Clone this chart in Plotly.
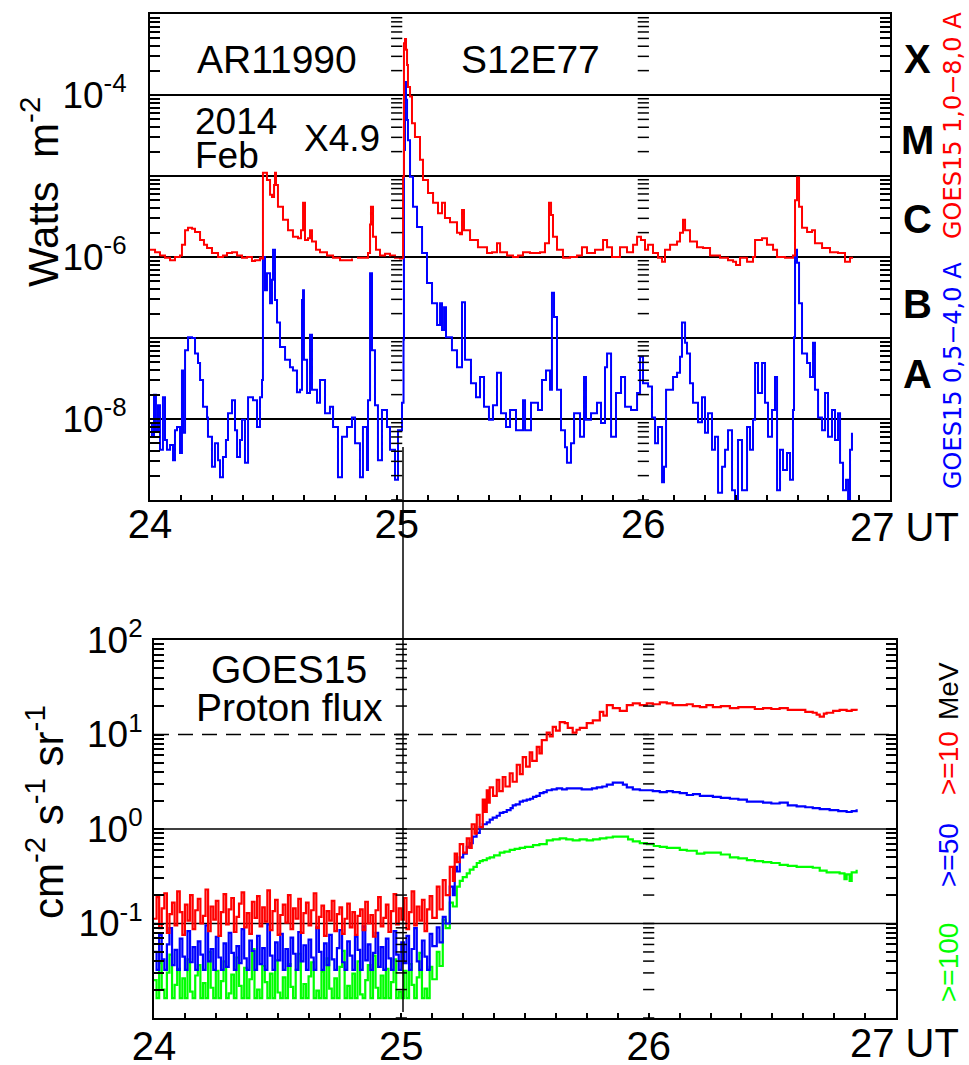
import plotly.graph_objects as go

W, H = 969, 1065
FONT = "Liberation Sans, Arial, sans-serif"

# ---------------- GOES-15 X-ray flux (hours after 2014-02-24 00:00 UT, log10 W m^-2) ----------------
xl_hours = [0.00, 0.49, 0.97, 1.46, 1.95, 2.43, 2.92, 3.11, 3.41, 3.70, 4.09, 4.38, 4.87, 5.25, 5.55,
            6.03, 6.62, 7.10, 7.49, 7.98, 8.47, 8.95, 9.44, 9.92, 10.22, 10.70, 10.90, 10.99, 11.38,
            11.68, 11.87, 12.07, 12.16, 12.26, 12.45, 12.94, 13.43, 13.91, 14.40, 14.69, 14.89, 15.08,
            15.37, 15.57, 15.76, 16.15, 16.54, 17.22, 17.81, 18.49, 19.27, 19.65, None, 20.14, 20.63,
            21.21, 21.41, 21.50, 21.70, 21.99, 22.38, 22.87, 23.35, 23.84, 24.33, 24.52, 24.62, 24.71,
            24.81, 24.91, 25.01, 25.10, 25.30, 25.49, 25.78, 26.27, 26.56, 27.05, 27.54, 28.02, 28.41,
            28.70, 29.19, 29.87, 30.16, 30.36, 30.55, 31.14, 31.91, 32.79, 33.28, 33.76, 34.06, 34.74,
            35.32, 35.81, 36.29, 36.97, 37.95, 38.43, 38.82, 39.02, 39.21, 39.60, 40.18, 40.87, 41.55,
            42.03, 42.52, 43.30, 44.08, 44.47, 44.95, 45.73, 46.41, 47.00, 47.39, 47.77, 48.16, 48.46,
            48.94, 49.43, 49.82, 50.11, 50.60, 51.28, 51.57, 51.86, 52.06, 52.54, 53.22, 53.81, 54.49,
            55.46, 56.24, 56.73, 57.02, 57.41, 58.09, 58.67, 58.87, 59.55, 60.03, 60.62, 61.01, 61.79,
            62.27, 62.56, 62.76, 62.95, 63.15, 63.44, 63.93, 64.41, 64.70, 65.39, 66.16, 66.94, 67.62,
            68.11, 68.40]
xl_log10 = [-5.91, -5.94, -5.98, -6.01, -6.04, -6.00, -5.98, -5.85, -5.67, -5.64, -5.65, -5.69, -5.79,
            -5.85, -5.89, -5.95, -6.00, -5.98, -5.95, -5.94, -5.98, -6.01, -6.00, -6.05, -6.04, -6.01,
            -6.02, -4.96, -5.05, -5.23, -5.26, -5.11, -4.96, -5.11, -5.38, -5.54, -5.67, -5.75, -5.77,
            -5.67, -5.33, -5.79, -5.77, -5.67, -5.81, -5.91, -5.94, -5.98, -6.01, -6.04, -6.04, -6.02,
            None, -6.01, -6.01, -5.95, -5.60, -5.38, -5.75, -5.91, -5.98, -5.96, -5.98, -6.01, -6.02,
            -6.01, -5.01, -3.36, -3.31, -3.44, -3.63, -3.90, -4.02, -4.35, -4.52, -4.80, -5.05, -5.21,
            -5.33, -5.46, -5.33, -5.52, -5.57, -5.70, -5.72, -5.42, -5.67, -5.79, -5.88, -5.95, -5.94,
            -5.83, -5.94, -5.98, -6.00, -5.98, -5.94, -5.95, -5.94, -5.83, -5.33, -5.48, -5.75, -5.91,
            -6.01, -6.00, -5.98, -5.88, -5.95, -5.91, -5.79, -5.88, -6.00, -5.88, -5.94, -5.85, -5.75,
            -5.79, -5.91, -5.85, -5.95, -6.01, -6.06, -5.91, -5.85, -5.81, -5.70, -5.54, -5.67, -5.81,
            -5.88, -5.89, -5.98, -6.01, -6.04, -6.06, -6.10, -6.01, -6.06, -6.00, -5.79, -5.77, -5.85,
            -5.91, -6.00, -6.01, -6.01, -5.98, -5.30, -5.02, -5.38, -5.64, -5.69, -5.67, -5.83, -5.89,
            -5.94, -5.95, -6.06, -6.01, -6.01]

xs_hours = [0.00, 0.19, 0.39, 0.58, 0.78, 0.97, 1.26, 1.46, 1.65, 1.95, 2.24, 2.43, 2.63, 2.92, 3.11,
            3.21, 3.41, 3.70, 4.09, 4.38, 4.67, 4.87, 5.16, 5.55, 5.64, 6.03, 6.32, 6.62, 6.81, 7.10,
            7.39, 7.59, 7.98, 8.27, 8.47, 8.76, 8.95, 9.24, 9.54, 10.02, 10.41, 10.70, 10.90, 10.99,
            11.19, 11.38, 11.68, 11.87, 11.97, 12.16, 12.36, 12.65, 13.14, 13.62, 13.91, 14.30, 14.60,
            14.79, 14.89, 14.98, 15.28, 15.57, 15.76, 16.25, 16.54, 17.03, 17.51, 17.81, 18.29, 18.68,
            19.17, 19.65, 19.95, 20.43, 20.72, 21.11, 21.21, 21.41, 21.60, 21.89, 22.18, 22.57, 23.06,
            23.35, 23.84, 24.13, 24.52, 24.67, 24.71, 24.81, 24.91, 25.01, 25.10, 25.30, 25.59, 25.98,
            26.47, 26.95, 27.44, 27.93, 28.22, 28.41, 28.61, 28.80, 29.38, 29.87, 30.16, 30.36, 30.65,
            31.23, 31.72, 32.11, 32.50, 32.98, 33.37, 33.76, 34.15, 34.64, 35.03, 35.61, 36.29, 36.49,
            37.07, 37.75, 38.14, 38.53, 38.92, 39.11, 39.31, 39.60, 39.99, 40.38, 40.57, 40.96, 41.26,
            41.84, 42.23, 42.42, 42.91, 43.49, 43.88, 44.27, 44.47, 44.86, 45.34, 45.83, 46.22, 46.80,
            47.39, 47.68, 47.97, 48.46, 48.84, 49.14, 49.43, 49.82, 50.01, 50.21, 50.60, 50.89, 51.28,
            51.57, 51.76, 52.06, 52.25, 52.54, 52.83, 53.32, 53.71, 54.00, 54.29, 54.68, 54.97, 55.27,
            55.66, 55.95, 56.24, 56.63, 56.92, 57.21, 57.60, 57.89, 58.09, 58.38, 58.67, 58.87, 59.16,
            59.55, 59.84, 60.13, 60.52, 60.81, 61.01, 61.30, 61.59, 61.98, 62.27, 62.56, 62.66, 62.76,
            62.95, 63.15, 63.44, 63.93, 64.22, 64.51, 64.70, 65.00, 65.39, 65.68, 65.97, 66.36, 66.65,
            66.94, 67.14, 67.43, 67.72, 67.92, 68.11, 68.30]
xs_log10 = [-8.05, -8.22, -7.70, -8.14, -7.83, -8.38, -7.73, -8.26, -8.38, -8.32, -8.51, -8.14, -8.10,
            -8.42, -7.40, -8.17, -7.15, -6.99, -7.00, -7.19, -7.31, -7.52, -7.85, -7.98, -8.22, -8.59,
            -8.30, -8.51, -8.72, -8.47, -8.26, -7.93, -7.77, -8.14, -8.47, -8.26, -8.01, -8.54, -7.73,
            -7.77, -8.10, -7.73, -7.52, -6.00, -6.41, -6.20, -6.57, -6.28, -5.91, -6.53, -6.81, -7.11,
            -7.27, -7.36, -7.40, -7.67, -7.64, -6.53, -6.41, -7.27, -7.68, -6.96, -7.64, -7.80, -7.52,
            -7.93, -7.85, -8.10, -8.72, -8.22, -8.10, -7.98, -8.30, -8.72, -8.10, -8.63, -7.77, -6.20,
            -7.15, -7.83, -8.51, -7.89, -8.10, -8.38, -8.75, -8.14, -7.80, -7.02, -4.68, -3.84, -4.06,
            -4.31, -4.56, -5.01, -5.38, -5.63, -5.95, -6.32, -6.57, -6.84, -6.57, -6.90, -6.62, -6.99,
            -7.15, -7.36, -7.36, -6.56, -7.27, -7.56, -7.73, -7.48, -7.85, -8.01, -7.83, -7.43, -7.93,
            -8.10, -7.89, -8.14, -7.77, -8.14, -7.80, -7.89, -7.52, -7.40, -7.64, -6.44, -6.74, -7.64,
            -8.14, -8.35, -8.54, -8.30, -7.93, -8.22, -7.48, -8.01, -7.93, -7.80, -8.05, -7.36, -7.19,
            -8.22, -7.68, -7.48, -7.85, -7.89, -7.68, -7.23, -7.56, -7.60, -7.98, -8.30, -8.10, -8.78,
            -8.59, -7.64, -7.64, -7.48, -7.43, -7.23, -6.81, -7.06, -7.19, -7.56, -7.80, -8.04, -7.73,
            -8.17, -7.93, -8.38, -8.22, -8.91, -8.59, -8.38, -8.14, -8.88, -9.02, -8.26, -8.88, -8.88,
            -8.10, -8.38, -8.01, -7.31, -7.68, -7.31, -7.80, -8.22, -7.89, -7.48, -8.88, -8.38, -8.63,
            -8.42, -8.75, -7.89, -6.99, -5.91, -6.07, -6.57, -7.19, -7.31, -7.48, -7.06, -7.64, -7.98,
            -8.14, -7.68, -8.22, -7.89, -8.26, -7.93, -8.54, -8.88, -8.75, -9.00, -8.38, -8.17]

# ---------------- GOES-15 integral proton flux (log10 cm^-2 s^-1 sr^-1) ----------------
p_base_hours = [0.0, 0.25, 0.5, 0.75, 1.0, 1.25, 1.5, 1.75, 2.0, 2.25, 2.5, 2.75, 3.0, 3.25, 3.5, 3.75,
                4.0, 4.25, 4.5, 4.75, 5.0, 5.25, 5.5, 5.75, 6.0, 6.25, 6.5, 6.75, 7.0, 7.25, 7.5, 7.75,
                8.0, 8.25, 8.5, 8.75, 9.0, 9.25, 9.5, 9.75, 10.0, 10.25, 10.5, 10.75, 11.0, 11.25, 11.5,
                11.75, 12.0, 12.25, 12.5, 12.75, 13.0, 13.25, 13.5, 13.75, 14.0, 14.25, 14.5, 14.75, 15.0,
                15.25, 15.5, 15.75, 16.0, 16.25, 16.5, 16.75, 17.0, 17.25, 17.5, 17.75, 18.0, 18.25, 18.5,
                18.75, 19.0, 19.25, 19.5, 19.75, 20.0, 20.25, 20.5, 20.75, 21.0, 21.25, 21.5, 21.75, 22.0,
                22.25, 22.5, 22.75, 23.0, 23.25, 23.5, 23.75, 24.0, 24.25, 24.5, 24.75, 25.0, 25.25, 25.5,
                25.75, 26.0, 26.25, 26.5, 26.75, 27.0]
p10_base_log10 = [-0.95, -0.72, -1.05, -0.84, -0.68, -1.10, -0.90, -0.78, -1.02, -0.66, -0.88, -1.12,
                  -0.80, -0.97, -0.70, -1.06, -0.86, -0.74, -1.00, -0.92, -0.64, -1.08, -0.82, -0.96,
                  -0.76, -1.13, -0.88, -0.69, -1.01, -0.85, -0.73, -1.09, -0.93, -0.79, -0.67, -1.04,
                  -0.89, -1.11, -0.77, -0.94, -0.71, -1.03, -0.83, -0.98, -0.65, -1.07, -0.87, -0.75,
                  -1.12, -0.91, -0.80, -0.99, -0.70, -1.06, -0.84, -0.95, -0.74, -1.10, -0.89, -0.78,
                  -1.02, -0.86, -0.68, -1.05, -0.93, -0.81, -1.13, -0.87, -0.97, -0.76, -1.08, -0.90,
                  -0.83, -1.11, -0.95, -0.79, -1.04, -0.88, -1.12, -0.92, -0.85, -1.07, -0.77, -1.00,
                  -0.91, -1.14, -0.86, -0.72, -1.03, -0.94, -0.80, -1.09, -0.87, -0.69, -1.01, -0.84,
                  -0.96, -0.73, -1.06, -0.88, -0.66, -1.02, -0.82, -0.97, -0.75, -1.08, -0.85, -0.71, -0.94]
p50_base_log10 = [-1.30, -1.49, -1.12, -1.38, -1.49, -1.22, -1.05, -1.44, -1.28, -1.49, -1.16, -1.35,
                  -1.49, -1.08, -1.41, -1.25, -1.49, -1.19, -1.33, -1.49, -1.02, -1.40, -1.27, -1.49,
                  -1.14, -1.36, -1.49, -1.21, -1.46, -1.10, -1.31, -1.49, -1.24, -1.42, -1.06, -1.37,
                  -1.49, -1.18, -1.29, -1.49, -1.13, -1.43, -1.26, -1.49, -1.01, -1.34, -1.49, -1.20,
                  -1.39, -1.11, -1.49, -1.27, -1.45, -1.15, -1.32, -1.49, -1.09, -1.40, -1.23, -1.49,
                  -1.17, -1.36, -1.49, -1.04, -1.30, -1.49, -1.21, -1.44, -1.12, -1.38, -1.49, -1.26,
                  -1.07, -1.41, -1.49, -1.19, -1.34, -1.49, -1.14, -1.28, -1.49, -1.03, -1.39, -1.22,
                  -1.49, -1.31, -1.10, -1.46, -1.25, -1.49, -1.16, -1.37, -1.49, -1.08, -1.33, -1.49,
                  -1.20, -1.42, -1.13, -1.49, -1.27, -1.05, -1.40, -1.49, -1.18, -1.35, -1.49, -1.11, -1.24]
p100_base_log10 = [-1.60, -1.79, -1.42, -1.70, -1.79, -1.52, -1.33, -1.79, -1.65, -1.48, -1.79, -1.58,
                   -1.79, -1.38, -1.72, -1.79, -1.55, -1.44, -1.79, -1.63, -1.79, -1.30, -1.68, -1.79,
                   -1.50, -1.79, -1.61, -1.40, -1.79, -1.74, -1.54, -1.79, -1.36, -1.66, -1.79, -1.47,
                   -1.79, -1.59, -1.27, -1.79, -1.70, -1.79, -1.45, -1.62, -1.79, -1.53, -1.79, -1.39,
                   -1.73, -1.79, -1.57, -1.79, -1.43, -1.67, -1.79, -1.49, -1.32, -1.79, -1.64, -1.79,
                   -1.56, -1.41, -1.79, -1.71, -1.79, -1.51, -1.79, -1.37, -1.69, -1.79, -1.58, -1.79,
                   -1.46, -1.29, -1.79, -1.66, -1.79, -1.53, -1.79, -1.40, -1.75, -1.79, -1.60, -1.44,
                   -1.79, -1.34, -1.68, -1.79, -1.55, -1.79, -1.48, -1.79, -1.62, -1.38, -1.79, -1.72,
                   -1.79, -1.50, -1.79, -1.43, -1.65, -1.79, -1.57, -1.31, -1.79, -1.69, -1.79, -1.46, -1.59]

p10_hours = [27.44, 27.7, 28.02, 28.3, 28.70, 29.0, 29.18, 29.4, 29.67, 30.0, 30.35, 30.6, 30.83, 31.1,
             31.32, 31.6, 31.90, 32.1, 32.29, 32.5, 32.58, 32.9, 33.26, 33.5, 33.84, 34.1, 34.52, 34.8,
             35.20, 35.5, 35.78, 36.1, 36.46, 36.7, 37.14, 37.4, 37.63, 38.11, 38.4, 38.69, 39.0, 39.37,
             39.86, 40.15, 40.63, 41.0, 41.32, 41.99, 42.58, 43.26, 43.6, 43.94, 44.52, 45.20, 45.88,
             46.46, 47.14, 47.82, 48.4, 49.08, 49.76, 50.34, 51.02, 51.70, 52.28, 52.97, 53.6, 54.23,
             55.0, 55.88, 56.7, 57.53, 58.3, 59.10, 59.9, 60.71, 61.5, 62.36, 63.2, 63.92, 64.3, 64.60,
             65.0, 65.27, 65.9, 66.53, 67.21, 67.7, 68.18]
p10_log10 = [-0.61, -0.85, -0.54, -0.70, -0.40, -0.55, -0.26, -0.35, -0.16, -0.25, -0.10, -0.20, 0.05,
             -0.05, 0.15, 0.02, 0.31, 0.18, 0.41, 0.28, 0.44, 0.35, 0.52, 0.40, 0.55, 0.45, 0.59, 0.50,
             0.68, 0.58, 0.76, 0.66, 0.81, 0.72, 0.87, 0.80, 0.94, 1.02, 0.98, 1.08, 1.04, 1.13, 1.12,
             1.07, 1.02, 1.05, 1.07, 1.12, 1.15, 1.24, 1.20, 1.31, 1.28, 1.25, 1.31, 1.33, 1.31, 1.33,
             1.32, 1.34, 1.33, 1.31, 1.31, 1.32, 1.30, 1.29, 1.31, 1.29, 1.30, 1.28, 1.29, 1.29, 1.27,
             1.28, 1.27, 1.28, 1.26, 1.26, 1.24, 1.23, 1.21, 1.19, 1.22, 1.23, 1.25, 1.26, 1.25, 1.26, 1.25]

p50_hours = [27.44, 27.7, 28.02, 28.3, 28.70, 29.0, 29.18, 29.4, 29.67, 30.0, 30.35, 30.64, 30.93, 31.3,
             31.61, 31.9, 32.29, 32.58, 32.87, 33.26, 33.55, 33.9, 34.23, 34.6, 34.81, 35.1, 35.49, 35.8,
             36.17, 36.5, 36.78, 37.1, 37.43, 37.8, 38.11, 38.6, 39.08, 39.6, 40.05, 40.6, 41.02, 41.5,
             41.99, 42.5, 42.97, 43.5, 43.94, 44.52, 45.20, 45.5, 45.88, 46.46, 47.14, 47.82, 48.4,
             49.08, 49.76, 50.34, 51.02, 51.70, 52.3, 52.97, 53.6, 54.23, 55.0, 55.88, 56.7, 57.53,
             58.3, 59.10, 59.9, 60.71, 61.5, 62.36, 63.2, 63.92, 64.6, 65.56, 66.4, 67.21, 67.7, 68.18]
p50_log10 = [-1.04, -1.20, -0.93, -1.00, -0.61, -0.70, -0.40, -0.45, -0.30, -0.26, -0.19, -0.15, -0.08,
             -0.04, 0.02, 0.05, 0.07, 0.10, 0.12, 0.14, 0.17, 0.18, 0.20, 0.22, 0.25, 0.26, 0.29, 0.30,
             0.31, 0.32, 0.34, 0.35, 0.38, 0.39, 0.41, 0.42, 0.43, 0.42, 0.43, 0.43, 0.43, 0.42, 0.42,
             0.43, 0.44, 0.45, 0.47, 0.49, 0.49, 0.47, 0.44, 0.42, 0.41, 0.41, 0.40, 0.39, 0.40, 0.39,
             0.38, 0.36, 0.37, 0.35, 0.35, 0.34, 0.33, 0.32, 0.31, 0.29, 0.29, 0.28, 0.27, 0.28, 0.25,
             0.24, 0.23, 0.22, 0.21, 0.20, 0.19, 0.18, 0.19, 0.21]

p100_hours = [27.44, 27.7, 28.02, 28.3, 28.70, 29.0, 29.38, 29.67, 29.96, 30.35, 30.64, 31.0, 31.32,
              31.61, 31.90, 32.29, 32.58, 33.0, 33.55, 34.0, 34.52, 35.0, 35.49, 36.0, 36.78, 37.4, 38.11,
              38.7, 39.37, 40.0, 40.63, 41.3, 41.99, 42.6, 43.26, 43.9, 44.52, 45.2, 45.49, 46.0, 46.46,
              47.14, 47.82, 48.5, 49.08, 49.76, 50.34, 51.02, 51.7, 52.67, 53.4, 54.23, 55.0, 55.88, 56.7,
              57.53, 58.3, 59.10, 59.9, 60.71, 61.5, 62.36, 63.1, 63.92, 64.6, 65.27, 66.0, 66.53, 67.0,
              67.21, 67.5, 67.7, 68.18]
p100_log10 = [-1.30, -1.45, -0.96, -1.05, -0.78, -0.82, -0.61, -0.55, -0.51, -0.47, -0.43, -0.40, -0.36,
              -0.34, -0.33, -0.31, -0.30, -0.28, -0.25, -0.24, -0.22, -0.21, -0.20, -0.19, -0.17, -0.16,
              -0.12, -0.11, -0.10, -0.11, -0.12, -0.11, -0.12, -0.11, -0.10, -0.09, -0.08, -0.08, -0.08,
              -0.11, -0.13, -0.15, -0.16, -0.18, -0.19, -0.20, -0.20, -0.22, -0.23, -0.26, -0.25, -0.25,
              -0.27, -0.30, -0.31, -0.33, -0.34, -0.35, -0.36, -0.38, -0.39, -0.40, -0.40, -0.41, -0.44,
              -0.46, -0.46, -0.47, -0.53, -0.48, -0.55, -0.46, -0.43]

# reference levels in the proton panel
ref_levels = [10.0, 1.0, 0.1]
ref_dash = ["15px,9px", "solid", "solid"]


def to_day(hours):
    return [None if h is None else 24 + h / 24.0 for h in hours]


def to_flux(logs):
    return [None if v is None else 10.0 ** v for v in logs]


def P(px, py):
    return px / W, 1 - py / H


fig = go.Figure()

# ---- X-ray panel ----
fig.add_trace(go.Scatter(x=to_day(xs_hours), y=to_flux(xs_log10), mode="lines", line_shape="hv",
                         line=dict(color="#0000ff", width=2), xaxis="x", yaxis="y", showlegend=False))
fig.add_trace(go.Scatter(x=to_day(xl_hours), y=to_flux(xl_log10), mode="lines", line_shape="hv",
                         line=dict(color="#ff0000", width=2), xaxis="x", yaxis="y", showlegend=False))

# ---- Proton panel ----
for lv, ds in zip(ref_levels, ref_dash):
    fig.add_trace(go.Scatter(x=[24, 27], y=[lv, lv], mode="lines", line=dict(color="black", width=1.5, dash=ds),
                             xaxis="x2", yaxis="y2", showlegend=False, hoverinfo="skip"))
for hrs, base, rise, col in [
    (p100_hours, p100_base_log10, p100_log10, "#00ff00"),
    (p50_hours, p50_base_log10, p50_log10, "#0000ff"),
    (p10_hours, p10_base_log10, p10_log10, "#ff0000"),
]:
    fig.add_trace(go.Scatter(x=to_day(p_base_hours + hrs), y=to_flux(base + rise), mode="lines",
                             line_shape="hv", line=dict(color=col, width=2.2), xaxis="x2", yaxis="y2",
                             showlegend=False))

# ---- tick columns at day boundaries (25 and 26 UT) ----
mults = [1, 2, 3, 4, 5, 6, 7, 8, 9]
top_ticks = [m * 10.0 ** e for e in range(-9, -3) for m in mults]
bot_ticks = [m * 10.0 ** e for e in range(-2, 2) for m in mults]
for d in [25, 26]:
    fig.add_trace(go.Scatter(x=[d] * len(top_ticks), y=top_ticks, mode="markers", xaxis="x", yaxis="y",
                             marker=dict(symbol="line-ew", size=8, line=dict(width=1.5, color="black")),
                             showlegend=False, hoverinfo="skip"))
    fig.add_trace(go.Scatter(x=[d] * len(bot_ticks), y=bot_ticks, mode="markers", xaxis="x2", yaxis="y2",
                             marker=dict(symbol="line-ew", size=8, line=dict(width=1.5, color="black")),
                             showlegend=False, hoverinfo="skip"))

xa = dict(range=[24, 27], tickvals=[24, 25, 26], ticktext=["24", "25", "26"], ticks="inside", ticklen=5,
          tickwidth=1.5, tickcolor="black", showgrid=False, zeroline=False, showline=True, linecolor="black",
          linewidth=2, mirror=True, automargin=False, tickfont=dict(size=40, color="black", family=FONT),
          minor=dict(dtick=0.125, tick0=24, ticks="inside", ticklen=5, tickwidth=1.5, tickcolor="black",
                     showgrid=False))

top_major = [10.0 ** e for e in range(-9, -2)]
top_text = ["", "10<sup>-8</sup>", "", "10<sup>-6</sup>", "", "10<sup>-4</sup>", ""]
bot_major = [10.0 ** e for e in range(-2, 3)]
bot_text = ["", "10<sup>-1</sup>", "10<sup>0</sup>", "10<sup>1</sup>", "10<sup>2</sup>"]
minor_top = [m * 10.0 ** e for e in range(-9, -3) for m in range(2, 10)]
minor_bot = [m * 10.0 ** e for e in range(-2, 2) for m in range(2, 10)]

fig.update_layout(
    width=W, height=H, margin=dict(l=0, r=0, t=0, b=0, autoexpand=False),
    paper_bgcolor="white", plot_bgcolor="white",
    font=dict(family=FONT, color="black"),
    xaxis=dict(xa, domain=[150 / W, 890 / W], anchor="y", ticklabelstandoff=-12),
    yaxis=dict(type="log", range=[-9, -3], domain=[1 - 500 / H, 1 - 14 / H], anchor="x",
               tickvals=top_major, ticktext=top_text, ticks="inside", ticklen=10, tickwidth=1.5,
               tickcolor="black", showgrid=True, gridcolor="black", gridwidth=1.5, zeroline=False,
               showline=True, linecolor="black", linewidth=2, mirror="ticks", ticklabelstandoff=14,
               automargin=False, tickfont=dict(size=37, color="black", family=FONT),
               minor=dict(tickvals=minor_top, ticks="inside", ticklen=10, tickwidth=1.5, tickcolor="black",
                          showgrid=False)),
    xaxis2=dict(xa, domain=[154 / W, 896 / W], anchor="y2", ticklabelstandoff=-8),
    yaxis2=dict(type="log", range=[-2, 2], domain=[1 - 1018 / H, 1 - 640 / H], anchor="x2",
                tickvals=bot_major, ticktext=bot_text, ticks="inside", ticklen=10, tickwidth=1.5,
                tickcolor="black", showgrid=False, zeroline=False, showline=True, linecolor="black",
                linewidth=2, mirror="ticks", ticklabelstandoff=2, automargin=False,
                tickfont=dict(size=37, color="black", family=FONT),
                minor=dict(tickvals=minor_bot, ticks="inside", ticklen=10, tickwidth=1.5, tickcolor="black",
                           showgrid=False)),
)

# flare-time marker line spanning both panels
x0, y0 = P(403, 1012)
_, y1 = P(403, 447)
fig.add_shape(type="line", xref="paper", yref="paper", x0=x0, x1=x0, y0=y0, y1=y1,
              line=dict(color="black", width=1.5))


def ann(text, px, py, size, color="black", angle=0, xanchor="center", bold=False, family=FONT):
    x, y = P(px, py)
    if bold:
        text = "<b>" + text + "</b>"
    fig.add_annotation(text=text, x=x, y=y, xref="paper", yref="paper", showarrow=False,
                       xanchor=xanchor, yanchor="middle", textangle=angle,
                       font=dict(size=size, color=color, family=family))


WIDE = "DejaVu Sans, Verdana, sans-serif"
NARROW = "Liberation Sans Narrow, Arial Narrow, sans-serif"

ann("AR11990", 277, 59, 39)
ann("S12E77", 530, 59, 39)
ann("2014", 193, 121, 37, xanchor="left")
ann("Feb", 193, 155, 37, xanchor="left")
ann("X4.9", 342, 138, 37)
for lab, py in [("X", 59), ("M", 140), ("C", 219), ("B", 304), ("A", 374)]:
    ann(lab, 917, py, 40, bold=True)
ann("GOES15 0,5\u22124,0 A", 953, 376, 24, color="#0000ff", angle=-90, family=WIDE)
ann("GOES15 1,0\u22128,0 A", 953, 126, 24, color="#ff0000", angle=-90, family=WIDE)
ann("Watts  m<sup>-2</sup>", 40, 192, 42, angle=-90)
ann("27 UT", 904, 527, 40)

ann("GOES15", 289, 669, 39)
ann("Proton flux", 289, 707, 39)
ann("cm<sup>-2</sup> s<sup>-1</sup> sr<sup>-1</sup>", 45, 812, 42, angle=-90)
ann("&gt;=100", 948, 963, 28, color="#00ff00", angle=-90, family=NARROW)
ann("&gt;=50", 948, 855, 28, color="#0000ff", angle=-90, family=NARROW)
ann("&gt;=10", 948, 763, 28, color="#ff0000", angle=-90, family=NARROW)
ann("MeV", 948, 691, 28, angle=-90, family=NARROW)
ann("27 UT", 904, 1043, 40)

fig.write_html("out.html")
